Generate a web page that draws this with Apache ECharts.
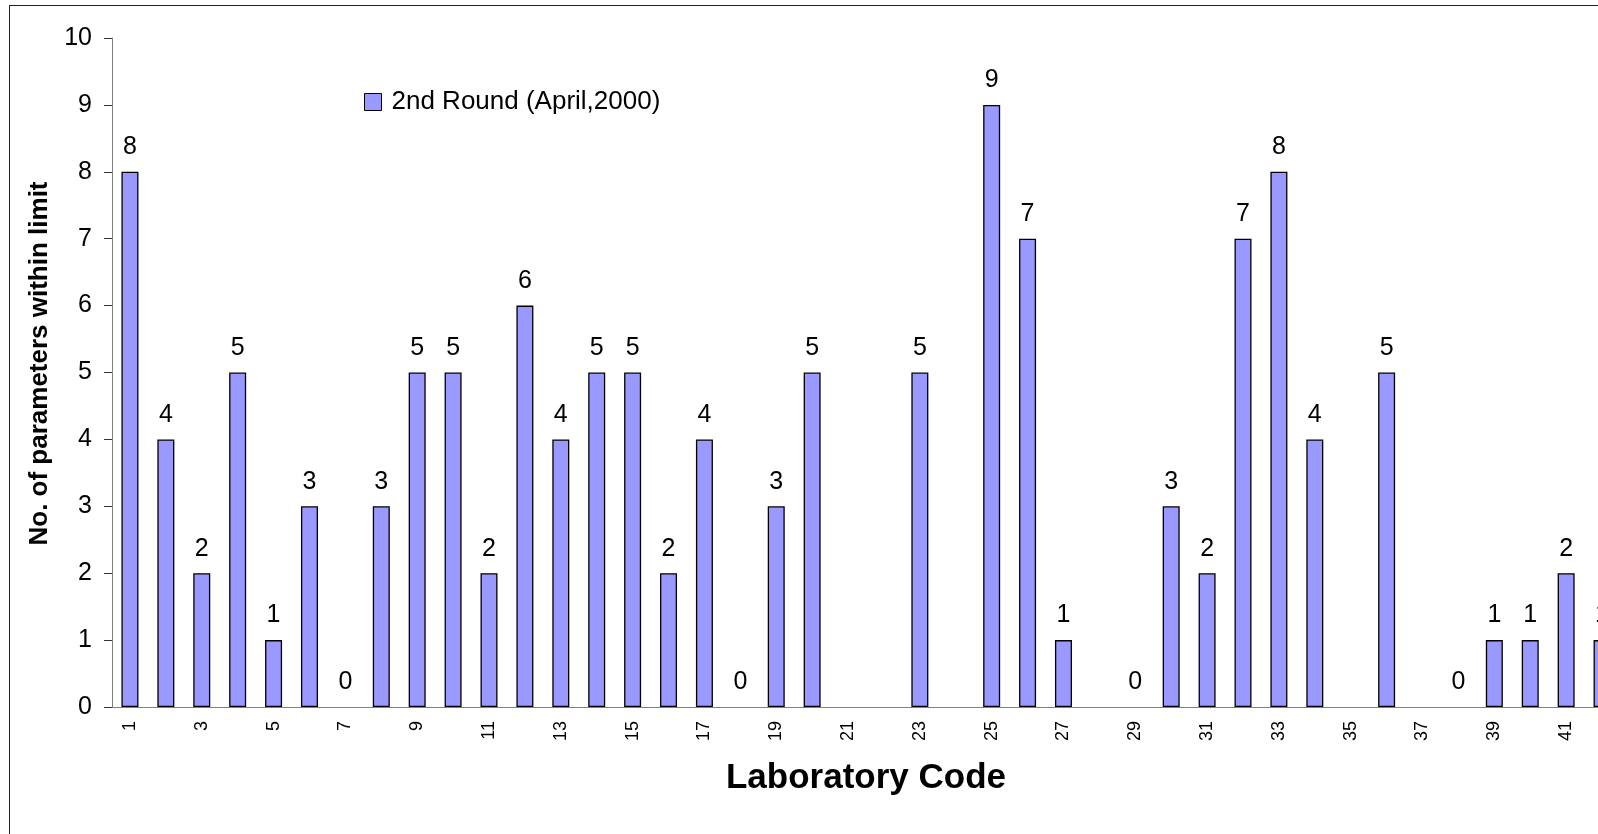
<!DOCTYPE html>
<html>
<head>
<meta charset="utf-8">
<title>Laboratory Code</title>
<script src="https://cdn.jsdelivr.net/npm/echarts@6/dist/echarts.min.js"></script>
<style>
    html, body { margin: 0; padding: 0; background: #fff; overflow: hidden; }
    #frame { position: absolute; left: 9px; top: 5px; width: 1800px; height: 1000px; border: 1px solid #222; }
    #chart { position: absolute; left: 0; top: 0; width: 1700px; height: 900px; }
</style>
</head>
<body>
<div id="frame"></div>
<div id="chart"></div>
<script>
// 数据
const labCodes = ['1','2','3','4','5','6','7','8','9','10','11','12','13','14','15','16','17','18','19','20',
    '21','22','23','24','25','26','27','28','29','30','31','32','33','34','35','36','37','38','39','40','41','42']
const round2 = [8,4,2,5,1,3,0,3,5,5, 2,6,4,5,5,2,4,0,3,5, '-','-',5,'-',9,7,1,'-',0,3, 2,7,8,4,'-',5,'-',0,1,1, 2,1]
const yTicks = [0,1,2,3,4,5,6,7,8,9,10]

const FONT = "'Liberation Sans', Arial, sans-serif"

const myCharts = echarts.init(document.getElementById('chart'))
const options = {
    animation:false,
    legend:{
        left:359,
        top:84,
        icon:'rect',
        itemWidth:17,
        itemHeight:17,
        itemStyle:{
            borderColor:'#000',
            borderWidth:1
        },
        textStyle:{
            fontFamily:FONT,
            fontSize:26,
            color:'#000',
            padding:[0,0,0,5]
        }
    },
    grid:{
        left:112,
        top:38,
        width:1508,
        height:669
    },
    xAxis:{
        type:'category',
        data:labCodes,
        name:'Laboratory Code',
        nameLocation:'middle',
        nameGap:54,
        nameTextStyle:{
            fontFamily:FONT,
            fontSize:35,
            fontWeight:'bold',
            color:'#000'
        },
        axisLine:{
            lineStyle:{color:'#808080', width:1}
        },
        axisTick:{
            interval:0,
            length:6,
            lineStyle:{color:'#333'}
        },
        axisLabel:{
            interval:1,
            rotate:90,
            margin:14,
            fontFamily:FONT,
            fontSize:18,
            color:'#000'
        }
    },
    yAxis:{
        type:'value',
        min:yTicks[0],
        max:yTicks[yTicks.length-1],
        interval:1,
        name:'No. of parameters within limit',
        nameLocation:'middle',
        nameGap:53,
        nameTextStyle:{
            fontFamily:FONT,
            fontSize:26,
            fontWeight:'bold',
            color:'#000',
            padding:[0,0,0,18]
        },
        splitLine:{show:false},
        axisLine:{
            show:true,
            lineStyle:{color:'#808080', width:1}
        },
        axisTick:{
            show:true,
            length:8,
            lineStyle:{color:'#333'}
        },
        axisLabel:{
            margin:20,
            fontFamily:FONT,
            fontSize:25,
            color:'#000'
        }
    },
    series:[
        {
            name:'2nd Round (April,2000)',
            type:'bar',
            // 0值不画边框
            data:round2.map(v=>v===0 ? {value:0, itemStyle:{borderWidth:0}} : v),
            barWidth:17,
            itemStyle:{
                color:'#9999FF',
                borderColor:'#000',
                borderWidth:1.3
            },
            label:{
                show:true,
                position:'top',
                distance:12,
                fontFamily:FONT,
                fontSize:25,
                color:'#000'
            }
        }
    ]
}
myCharts.setOption(options)
</script>
</body>
</html>
